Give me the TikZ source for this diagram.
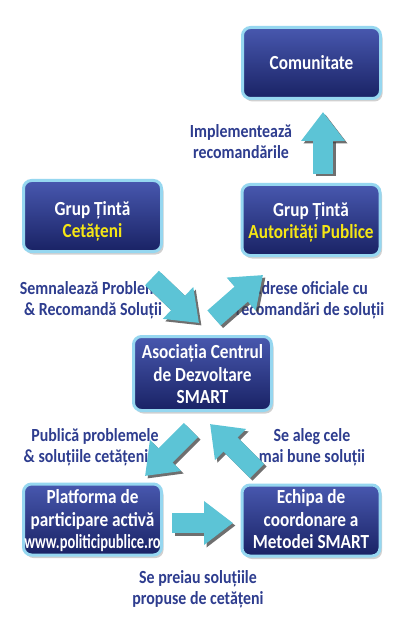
\documentclass[tikz,border=0pt]{standalone}
\usepackage{fontspec}
\setmainfont{Carlito}[FakeStretch=0.86]
\usetikzlibrary{arrows.meta,shadows}
\definecolor{boxtop}{RGB}{72,88,175}
\definecolor{boxmid}{RGB}{58,74,163}
\definecolor{boxbot}{RGB}{25,34,100}
\definecolor{glow}{RGB}{150,215,240}
\definecolor{arrcol}{RGB}{92,196,214}
\definecolor{lblcol}{RGB}{46,61,143}
\definecolor{ylw}{RGB}{245,230,20}
\tikzset{
  box/.style={rounded corners=8pt, minimum width=138pt, minimum height=71pt,
    draw=glow, line width=3pt, top color=boxtop, middle color=boxmid, bottom color=boxbot,
    text=white, font=\fontsize{20}{22.5}\selectfont\bfseries, align=center, inner sep=0pt,
    drop shadow={shadow xshift=2pt, shadow yshift=-3pt, opacity=0.3, fill=black!60}},
  lbl/.style={text=lblcol, font=\fontsize{18.5}{21}\selectfont\bfseries, align=center, inner sep=0pt},
  barrow/.style={line width=20pt, arrcol, -{Triangle[length=29pt,width=42pt]}},
  bshadow/.style={line width=20pt, black!75, opacity=0.75, -{Triangle[length=29pt,width=42pt]}}
}
\newcommand{\blockarrow}[2]{%
  \draw[bshadow, transform canvas={xshift=2.5pt,yshift=-2.5pt}] (#1) -- (#2);
  \draw[barrow] (#1) -- (#2);}
\newcommand{\boxtext}[2]{\raisebox{#1}[\height][\depth]{\begin{tabular}{@{}c@{}}#2\end{tabular}}}
\begin{document}
\begin{tikzpicture}[x=1pt,y=-1pt]
\useasboundingbox[fill=white] (0,0) rectangle (400,620);
% boxes
\node[box] (com) at (311.5,63) {Comunitate};
\node[box] (cet) at (92.5,216) {\boxtext{-6pt}{Grup Țintă\\\textcolor{ylw}{Cetățeni}}};
\node[box] (aut) at (311,220) {\boxtext{-3pt}{Grup Țintă\\\textcolor{ylw}{Autorități Publice}}};
\node[box, minimum height=74pt] (aso) at (202.5,373.5) {\boxtext{-3pt}{Asociația Centrul\\de Dezvoltare\\SMART}};
\node[box] (pla) at (92.5,519.5) {\boxtext{-2pt}{Platforma de\\participare activă\\\scalebox{0.84}[1]{www.politicipublice.ro}}};
\node[box] (ech) at (311,520.5) {\boxtext{-1pt}{Echipa de\\coordonare a\\Metodei SMART}};
% labels
\node[lbl] (limp) at (241,141.5) {Implementează\\recomandările};
\node[lbl] (lsem) at (93,300.5) {Semnalează Probleme\\\& Recomandă Soluții};
\node[lbl] (ladr) at (310,300.5) {Adrese oficiale cu\\recomandări de soluții};
\node[lbl] (lpub) at (95,447) {Publică problemele\\\& soluțiile cetățenilor};
\node[lbl] (lsel) at (312,447) {Se aleg cele\\mai bune soluții};
\node[lbl] (lsep) at (198,589) {Se preiau soluțiile\\propuse de cetățeni};
% arrow end points
\coordinate (a1s) at (323,174);
\coordinate (a1e) at (323,112);
\coordinate (a2s) at (152,278);
\coordinate (a2e) at (199,323);
\coordinate (a3s) at (214,318);
\coordinate (a3e) at (263,275);
\coordinate (a4s) at (191,430);
\coordinate (a4e) at (145,476);
\coordinate (a5s) at (257,471);
\coordinate (a5e) at (210,424);
\coordinate (a6s) at (172,523);
\coordinate (a6e) at (233,523);
\blockarrow{a1s}{a1e}
\blockarrow{a2s}{a2e}
\blockarrow{a3s}{a3e}
\blockarrow{a4s}{a4e}
\blockarrow{a5s}{a5e}
\blockarrow{a6s}{a6e}
\end{tikzpicture}
\end{document}
